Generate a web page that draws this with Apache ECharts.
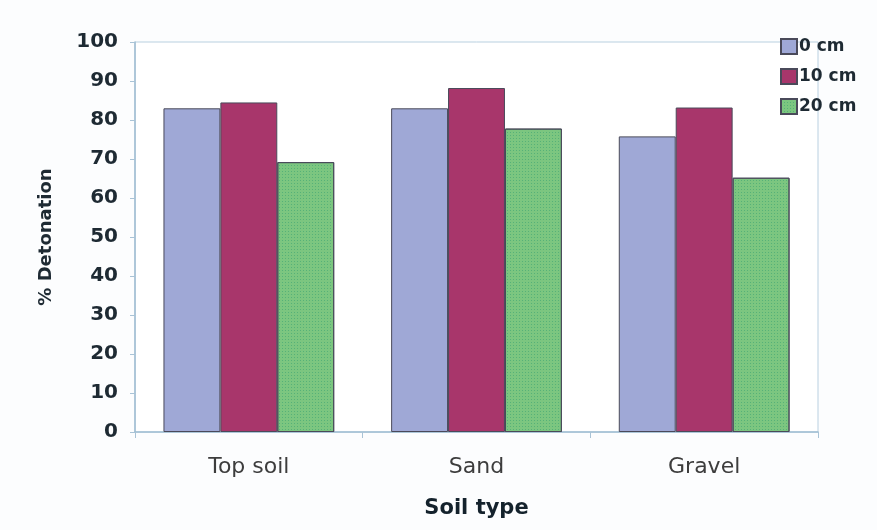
<!DOCTYPE html>
<html>
<head>
<meta charset="utf-8">
<script src="https://cdn.jsdelivr.net/npm/echarts@6/dist/echarts.min.js"></script>
<style>
html,body{margin:0;padding:0;background:#fcfdfe;}
#chart{width:877px;height:530px;}
</style>
</head>
<body>
<div id="chart"></div>
<script>
const categories = ['Top soil', 'Sand', 'Gravel'];
const seriesNames = ['0 cm', '10 cm', '20 cm'];
const values0cm = [83, 83, 75.8];
const values10cm = [84.5, 88.2, 83.2];
const values20cm = [69.2, 77.8, 65.2];
const yTicks = [0, 10, 20, 30, 40, 50, 60, 70, 80, 90, 100];

const chart = echarts.init(document.getElementById('chart'));
const barBorder = { borderColor: '#4a4a5a', borderWidth: 1 };
chart.setOption({
  backgroundColor: '#fcfdfe',
  animation: false,
  grid: {
    left: 135, right: 59, top: 42, bottom: 98,
    show: true, backgroundColor: '#ffffff', borderColor: '#b9d0e0', borderWidth: 1
  },
  legend: {
    orient: 'vertical',
    left: 775, top: 33,
    icon: 'rect',
    itemWidth: 16, itemHeight: 15, itemGap: 13,
    data: seriesNames,
    textStyle: { fontFamily: 'DejaVu Sans', fontWeight: 'bold', fontSize: 17, color: '#1e2a33', padding: [0, 0, 0, -3] }
  },
  xAxis: {
    type: 'category',
    data: categories,
    name: 'Soil type',
    nameLocation: 'middle',
    nameGap: 66,
    nameTextStyle: { fontFamily: 'DejaVu Sans', fontWeight: 'bold', fontSize: 21, color: '#14222c' },
    axisLine: { lineStyle: { color: '#9fbdd2', width: 1.5 } },
    axisTick: { show: true, length: 6, lineStyle: { color: '#a9c3d6' } },
    axisLabel: { fontFamily: 'DejaVu Sans', fontSize: 22, color: '#3d3d3d', margin: 24 }
  },
  yAxis: {
    type: 'value',
    min: yTicks[0], max: yTicks[yTicks.length - 1], interval: 10,
    name: '% Detonation',
    nameLocation: 'middle',
    nameGap: 80,
    nameTextStyle: { fontFamily: 'DejaVu Sans', fontWeight: 'bold', fontSize: 18, color: '#1e2a33' },
    axisLine: { show: true, lineStyle: { color: '#9fbdd2', width: 1.5 } },
    axisTick: { show: true, length: 5, lineStyle: { color: '#a9c3d6' } },
    splitLine: { show: false },
    axisLabel: { fontFamily: 'DejaVu Sans', fontWeight: 'bold', fontSize: 20, color: '#1e2a33', margin: 17 }
  },
  series: [
    {
      name: seriesNames[0], type: 'bar', data: values0cm,
      barGap: '0%', barCategoryGap: '25%',
      itemStyle: Object.assign({ color: '#9fa8d6' }, barBorder)
    },
    {
      name: seriesNames[1], type: 'bar', data: values10cm,
      barGap: '0%', barCategoryGap: '25%',
      itemStyle: Object.assign({ color: '#a8366b' }, barBorder)
    },
    {
      name: seriesNames[2], type: 'bar', data: values20cm,
      barGap: '0%', barCategoryGap: '25%',
      itemStyle: Object.assign({
        color: '#7cc680',
        decal: { symbol: 'rect', symbolSize: 1, dashArrayX: [1, 2], dashArrayY: [1, 2], rotation: 0, color: 'rgba(40,150,110,0.45)' }
      }, barBorder)
    }
  ]
});
</script>
</body>
</html>
